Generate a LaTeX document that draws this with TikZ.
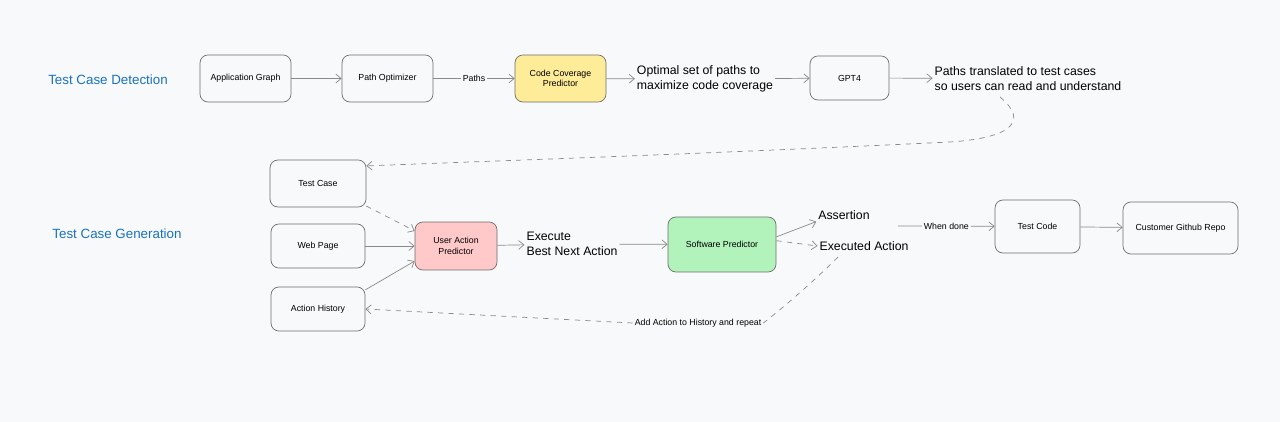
\documentclass[tikz,border=0pt]{standalone}
\usepackage{fontspec}
\setmainfont{Liberation Sans}
\usetikzlibrary{arrows.meta}

\definecolor{bgcol}{HTML}{F8F9FA}
\definecolor{secblue}{HTML}{1971C2}
\definecolor{yellowfill}{HTML}{FFEC99}
\definecolor{pinkfill}{HTML}{FFC9C9}
\definecolor{greenfill}{HTML}{B2F2BB}
\definecolor{linecol}{HTML}{6E6E6E}
\definecolor{conncol}{HTML}{8A8A8A}

\begin{document}
\begin{tikzpicture}[x=0.02cm,y=-0.02cm,
    box/.style={rectangle,draw=linecol,rounded corners=4.5pt,line width=0.4pt,
        font=\fontsize{5}{6}\selectfont,align=center},
    note/.style={font=\fontsize{7}{8.2}\selectfont,align=left,inner sep=1pt},
    lbl/.style={font=\fontsize{5}{6}\selectfont,fill=bgcol,inner sep=1pt},
    sect/.style={font=\fontsize{7.6}{8.5}\selectfont,text=secblue},
    conn/.style={-{Straight Barb[length=3pt,width=5pt]},draw=conncol,line width=0.4pt}]

        \fill[bgcol] (0,0) rectangle (1280,422);
        \useasboundingbox (0,0) rectangle (1280,422);

        % test case detection
        \node[sect] (detect) at (108,80) {Test Case Detection};
        \node[box,minimum width=1.82cm,minimum height=0.94cm] (appg) at (245.5,78.5) {Application Graph};
        \node[box,minimum width=1.82cm,minimum height=0.94cm] (popt) at (387.5,78.5) {Path Optimizer};
        \node[box,fill=yellowfill,minimum width=1.82cm,minimum height=0.94cm] (ccp) at (560.5,78.5) {Code Coverage\\Predictor};
        \node[note] (optset) at (705,79) {Optimal set of paths to\\maximize code coverage};
        \node[box,minimum width=1.58cm,minimum height=0.88cm] (gpt) at (849.5,78) {GPT4};
        \node[note] (transl) at (1028,78.5) {Paths translated to test cases\\so users can read and understand};
        \coordinate (loopstart) at (1000,97);

        % test case generation
        \node[sect] (gener) at (117,234) {Test Case Generation};
        \node[box,minimum width=1.92cm,minimum height=0.94cm] (tcase) at (318,183.5) {Test Case};
        \node[box,minimum width=1.88cm,minimum height=0.88cm] (wpage) at (318,246) {Web Page};
        \node[box,minimum width=1.88cm,minimum height=0.88cm] (ahist) at (318,309) {Action History};
        \node[box,fill=pinkfill,minimum width=1.64cm,minimum height=0.96cm] (uap) at (456,246) {User Action\\Predictor};
        \node[note] (exe) at (572,244) {Execute\\Best Next Action};
        \node[box,fill=greenfill,minimum width=2.16cm,minimum height=1.10cm] (swp) at (722,244.5) {Software Predictor};
        \node[note] (assert) at (844,215) {Assertion};
        \node[note] (execd) at (864,246) {Executed Action};
        \coordinate (eatail) at (838,257);
        \coordinate (wd) at (898,226);
        \node[box,minimum width=1.70cm,minimum height=1.06cm] (tcode) at (1037.5,226.5) {Test Code};
        \node[box,minimum width=2.30cm,minimum height=1.04cm] (repo) at (1180.5,228) {Customer Github Repo};
        \node[font=\fontsize{5}{6}\selectfont,inner sep=1pt] (addl) at (698,323) {Add Action to History and repeat};

        \draw[conn] (appg) -- (popt);
        \draw[conn] (popt) -- node[lbl]{Paths} (ccp);
        \draw[conn] (ccp) -- (optset);
        \draw[conn] (optset) -- (gpt);
        \draw[conn] (gpt) -- (transl);
        \draw[conn,dashed] (loopstart) .. controls (1030,122) and (1010,138) .. (950,142)
            .. controls (700,154) and (520,160) .. (tcase.20);

        \draw[conn,dashed] (tcase.-25) -- (uap.160);
        \draw[conn] (wpage) -- (uap);
        \draw[conn] (ahist.22) -- (uap.200);
        \draw[conn] (uap) -- (exe);
        \draw[conn] (exe) -- (swp);
        \draw[conn] (swp.8) -- (assert.south west);
        \draw[conn,dashed] (swp.4) -- (execd.west);
        \draw[conn] (wd) -- node[lbl]{When done} (tcode);
        \draw[conn] (tcode) -- (repo);
        \draw[dashed,draw=conncol,line width=0.4pt] (eatail) .. controls (805,290) and (770,318) .. (addl.east);
        \draw[conn,dashed] (addl.west) -- (ahist.east);

    \end{tikzpicture}
\end{document}
